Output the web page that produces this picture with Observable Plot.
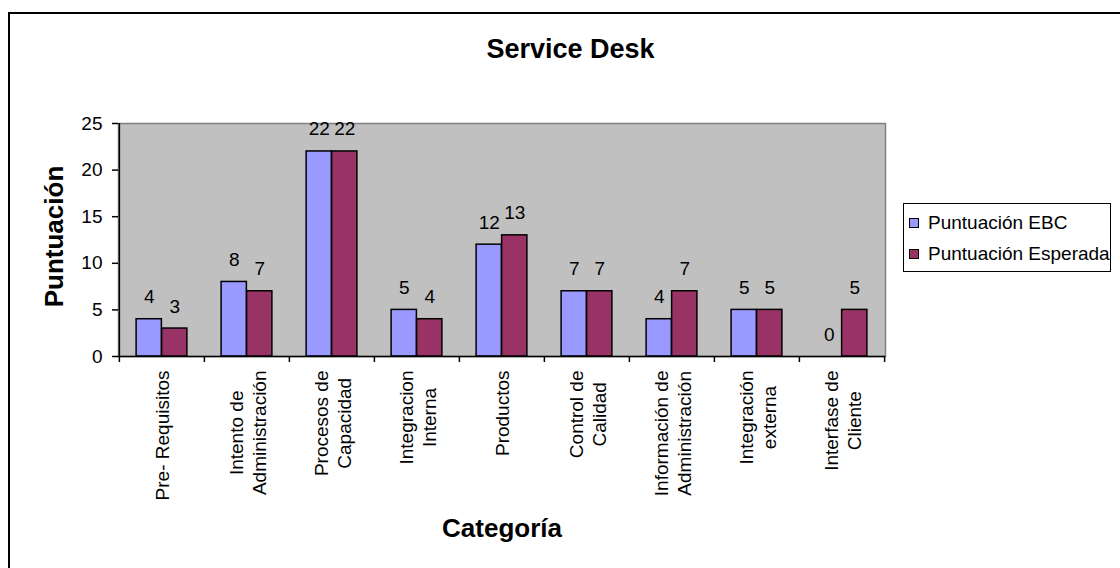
<!DOCTYPE html>
<html>
<head>
<meta charset="utf-8">
<script src="https://cdn.jsdelivr.net/npm/d3@7"></script>
<script src="https://cdn.jsdelivr.net/npm/@observablehq/plot@0.6"></script>
<style>
  html, body { margin: 0; padding: 0; background: #fff; }
  body { font-family: "Liberation Sans", Arial, sans-serif; }
  #wrap { position: relative; width: 1120px; height: 568px; overflow: hidden; background: #fff; }
  #border { position: absolute; left: 8px; top: 12px; width: 1300px; height: 800px; border: 2px solid #000; box-sizing: border-box; }
  #chart { position: absolute; left: 0; top: 0; }
  #legend { position: absolute; left: 903px; top: 203px; width: 208px; height: 69px; border: 1.5px solid #000; box-sizing: border-box; background: #fff; font-size: 19px; color: #000; }
  .item { position: absolute; left: 5px; height: 22px; line-height: 22px; display: flex; align-items: center; white-space: nowrap; }
  .sw { width: 8px; height: 8px; border: 1.5px solid #000; margin-right: 9px; }
</style>
</head>
<body>
<div id="wrap">
  <div id="border"></div>
  <div id="chart"></div>
  <div id="legend"></div>
</div>
<script>
// ---- data ----
const categories = [
  "Pre- Requisitos",
  "Intento de\nAdministración",
  "Procesos de\nCapacidad",
  "Integracion\nInterna",
  "Productos",
  "Control de\nCalidad",
  "Información de\nAdministración",
  "Integración\nexterna",
  "Interfase de\nCliente"
];
const ebc = [4, 8, 22, 5, 12, 7, 4, 5, 0];
const esperada = [3, 7, 22, 4, 13, 7, 7, 5, 5];
const seriesNames = ["Puntuación EBC", "Puntuación Esperada"];
const seriesColors = ["#9999ff", "#993366"];
const yTicks = [0, 5, 10, 15, 20, 25];
const titleText = "Service Desk";
const xTitle = "Categoría";
const yTitle = "Puntuación";

// ---- layout ----
const W = 1120, H = 568;
const mL = 118, mR = 235, mT = 123, mB = 212;
const step = (W - mL - mR) / categories.length;
const barW = 25.5;
const font = '"Liberation Sans", Arial, sans-serif';

const rowsEBC = categories.map((c, i) => ({cat: c, value: ebc[i]}));
const rowsEsp = categories.map((c, i) => ({cat: c, value: esperada[i]}));

const ctx = document.createElement("canvas").getContext("2d");
ctx.font = '19px "Liberation Sans"';
const maxW = c => Math.max(...c.split("\n").map(s => ctx.measureText(s).width));

const frameCx = mL + (W - mL - mR) / 2;
const frameCy = mT + (H - mT - mB) / 2;

const plot = Plot.plot({
  width: W, height: H,
  marginLeft: mL, marginRight: mR, marginTop: mT, marginBottom: mB,
  style: {background: "transparent", fontFamily: font, fontSize: "19px", color: "#000", overflow: "visible"},
  x: {domain: categories, padding: 0, axis: null},
  y: {domain: [0, 25], axis: null},
  marks: [
    Plot.frame({fill: "#c0c0c0", stroke: "#808080", strokeWidth: 1.5}),
    Plot.barY(rowsEBC, {x: "cat", y: "value", fill: seriesColors[0], stroke: "#000", strokeWidth: 1.5,
      insetLeft: step / 2 - barW, insetRight: step / 2}),
    Plot.barY(rowsEsp, {x: "cat", y: "value", fill: seriesColors[1], stroke: "#000", strokeWidth: 1.5,
      insetLeft: step / 2, insetRight: step / 2 - barW}),
    Plot.ruleY([0], {stroke: "#000", strokeWidth: 1.5}),
    Plot.ruleX([categories[0]], {x: d => d, dx: -step / 2, stroke: "#000", strokeWidth: 1.5}),
    Plot.axisX({ticks: categories, tickSize: 6, tickFormat: () => "", dx: -step / 2, label: null, strokeWidth: 1.5}),
    Plot.axisX({ticks: [categories[categories.length - 1]], tickSize: 6, tickFormat: () => "", dx: step / 2, label: null, strokeWidth: 1.5}),
    Plot.axisY({ticks: yTicks, tickSize: 6, tickPadding: 10, label: null, strokeWidth: 1.5, fontSize: 19}),
    Plot.text(rowsEBC, {x: "cat", y: "value", text: d => String(d.value), dx: -barW / 2, dy: -16, lineAnchor: "bottom", fill: "#000", fontSize: 19}),
    Plot.text(rowsEsp, {x: "cat", y: "value", text: d => String(d.value), dx: barW / 2, dy: -16, lineAnchor: "bottom", fill: "#000", fontSize: 19}),
    ...categories.map(c => Plot.text([c], {
      x: d => d, text: d => d, frameAnchor: "bottom", rotate: -90,
      textAnchor: "middle", lineAnchor: "middle", lineHeight: 1.2,
      dy: 14 + maxW(c) / 2, fill: "#000", fontSize: 19
    })),
    Plot.text([titleText], {text: d => d, frameAnchor: "top", dx: 570 - frameCx, dy: 57 - mT,
      lineAnchor: "bottom", fontSize: 27, fontWeight: "bold", fill: "#000"}),
    Plot.text([xTitle], {text: d => d, frameAnchor: "bottom", dy: 536 - (H - mB),
      lineAnchor: "bottom", fontSize: 26, fontWeight: "bold", fill: "#000"}),
    Plot.text([yTitle], {text: d => d, frameAnchor: "left", rotate: -90, dx: 62 - mL, dy: 236 - frameCy,
      textAnchor: "middle", lineAnchor: "bottom", fontSize: 26, fontWeight: "bold", fill: "#000"})
  ]
});
document.getElementById("chart").appendChild(plot);

// legend
const legend = document.getElementById("legend");
seriesNames.forEach((name, i) => {
  const item = document.createElement("div");
  item.className = "item";
  item.style.top = (8 + i * 31) + "px";
  const sw = document.createElement("div");
  sw.className = "sw";
  sw.style.background = seriesColors[i];
  const label = document.createElement("span");
  label.textContent = name;
  item.appendChild(sw);
  item.appendChild(label);
  legend.appendChild(item);
});
</script>
</body>
</html>
